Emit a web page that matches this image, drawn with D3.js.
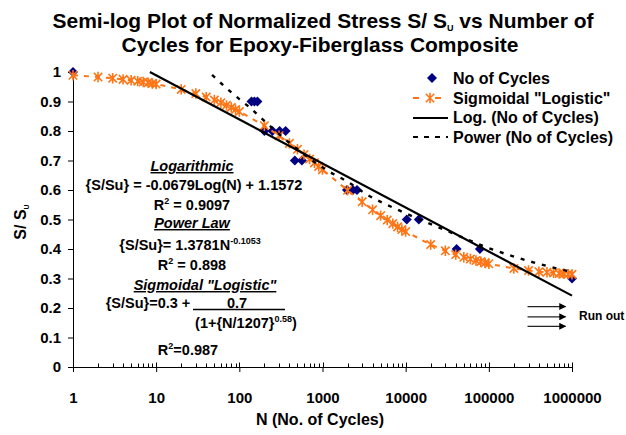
<!DOCTYPE html>
<html>
<head>
<meta charset="utf-8">
<script src="https://cdn.jsdelivr.net/npm/d3@7"></script>
<style>
body { margin: 0; background: #fff; }
text { font-family: Arial, "Liberation Sans", sans-serif; font-weight: bold; fill: #000; }
</style>
</head>
<body>
<script>
// measured points (No of Cycles)
var cycN = [1, 140, 152, 165, 200, 250, 305, 360, 465, 565, 1970, 2320, 2600, 10300, 14400, 41000, 78000, 1000000];
var cycS = [1.0, 0.9, 0.9, 0.9, 0.8, 0.8, 0.8, 0.8, 0.7, 0.7, 0.6, 0.6, 0.6, 0.5, 0.5, 0.4, 0.4, 0.3];

// sigmoidal "logistic" series
var sigN = [1, 2, 3, 4, 5, 6, 7, 8, 9,
  10, 20, 30, 40, 50, 60, 70, 80, 90,
  100, 200, 300, 400, 500, 600, 700, 800, 900,
  1000, 2000, 3000, 4000, 5000, 6000, 7000, 8000, 9000,
  10000, 20000, 30000, 40000, 50000, 60000, 70000, 80000, 90000,
  100000, 200000, 300000, 400000, 500000, 600000, 700000, 800000, 900000,
  1000000];
var sigS = [0.989, 0.983, 0.979, 0.975, 0.972, 0.969, 0.966, 0.964, 0.961,
  0.959, 0.941, 0.927, 0.915, 0.905, 0.896, 0.887, 0.880, 0.873,
  0.866, 0.818, 0.784, 0.758, 0.738, 0.720, 0.705, 0.692, 0.680,
  0.669, 0.599, 0.560, 0.533, 0.513, 0.498, 0.486, 0.475, 0.466,
  0.459, 0.415, 0.394, 0.381, 0.372, 0.366, 0.361, 0.357, 0.353,
  0.350, 0.334, 0.327, 0.323, 0.321, 0.319, 0.317, 0.316, 0.315,
  0.314];

// trend lines as seen on the chart
var logN = [8.4, 1000000];
var logS = [1.0, 0.242];
var powN = [47, 77, 101, 134, 169, 400, 1100, 1970, 3400, 8500, 30000, 112000, 434000, 1000000];
var powS = [0.99, 0.935, 0.907, 0.879, 0.853, 0.76, 0.669, 0.629, 0.585, 0.53, 0.464, 0.398, 0.347, 0.322];

// run out arrows
var runS = [0.205, 0.17, 0.138];
var runFrom = 292000, runTo = 836000;

var xTicks = [1, 10, 100, 1000, 10000, 100000, 1000000];
var yTicks = [0, 0.1, 0.2, 0.3, 0.4, 0.5, 0.6, 0.7, 0.8, 0.9, 1];

var orange = "#ff7414", navy = "#000080";

var W = 626, H = 435;
var svg = d3.select("body").append("svg").attr("width", W).attr("height", H);
svg.append("rect").attr("width", W).attr("height", H).attr("fill", "#fff");

var x = d3.scaleLog().domain([1, 1e6]).range([73, 572]);
var y = d3.scaleLinear().domain([0, 1]).range([367, 72]);

// title
var title = svg.append("text").attr("text-anchor", "middle").style("font-size", "21px");
var t1 = title.append("tspan").attr("x", 323).attr("y", 28);
t1.append("tspan").text("Semi-log Plot of Normalized Stress S/ S");
t1.append("tspan").text("U").style("font-size", "9px").attr("dy", 3);
t1.append("tspan").text(" vs Number of").attr("dy", -3);
title.append("tspan").attr("x", 320).attr("y", 52).text("Cycles for Epoxy-Fiberglass Composite");

// axes
var yAxis = svg.append("g").attr("transform", "translate(73,0)")
  .call(d3.axisLeft(y).tickValues(yTicks).tickSize(5).tickSizeOuter(0).tickPadding(7)
    .tickFormat(function(d) { return d == 0 ? "0" : d == 1 ? "1" : d.toFixed(1); }));
var xAxis = svg.append("g").attr("transform", "translate(0,367)")
  .call(d3.axisBottom(x).tickValues(xTicks).tickSize(5).tickSizeOuter(0).tickPadding(20)
    .tickFormat(d3.format("d")));
svg.selectAll(".tick text").style("font-size", "15px").style("font-family", "Arial, 'Liberation Sans', sans-serif");
svg.selectAll(".domain").attr("stroke", "#000");

// major ticks also go up, minor ticks only up
var minor = x.ticks().filter(function(d) { return xTicks.indexOf(d) < 0; });
svg.append("g").selectAll("line").data(xTicks.concat(minor)).enter().append("line")
  .attr("x1", function(d) { return Math.round(x(d)) + 0.5; })
  .attr("x2", function(d) { return Math.round(x(d)) + 0.5; })
  .attr("y1", 367.5)
  .attr("y2", function(d) { return xTicks.indexOf(d) >= 0 ? 362.5 : 363.5; })
  .attr("stroke", "#000");

svg.append("text").attr("x", 320).attr("y", 425).attr("text-anchor", "middle")
  .style("font-size", "16px").text("N (No. of Cycles)");
var yl = svg.append("text").attr("transform", "translate(26,222) rotate(-90)")
  .attr("text-anchor", "middle").style("font-size", "16px");
yl.append("tspan").text("S/ S");
yl.append("tspan").text("U").style("font-size", "7px").attr("dy", 3);

// No of Cycles diamonds
var diamond = "M0,-5L5,0L0,5L-5,0Z";
svg.append("g").selectAll("path").data(cycN).enter().append("path")
  .attr("d", diamond)
  .attr("transform", function(d, i) { return "translate(" + x(d) + "," + y(cycS[i]) + ")"; })
  .attr("fill", navy);

// sigmoidal series
var sig = sigN.map(function(d, i) { return [d, sigS[i]]; });
var line = d3.line().x(function(d) { return x(d[0]); }).y(function(d) { return y(d[1]); });
svg.append("path").datum(sig).attr("d", line).attr("fill", "none")
  .attr("stroke", orange).attr("stroke-width", 2).attr("stroke-dasharray", "5,6");

function star(r) {
  return "M" + (-r) + "," + (-r) + "L" + r + "," + r + "M" + (-r) + "," + r + "L" + r + "," + (-r) +
    "M0," + (-r - 1) + "L0," + (r + 1);
}
svg.append("g").selectAll("path").data(sig).enter().append("path")
  .attr("d", star(4.2))
  .attr("transform", function(d) { return "translate(" + x(d[0]) + "," + y(d[1]) + ")"; })
  .attr("stroke", orange).attr("stroke-width", 1.6).attr("fill", "none");

// trend lines
var logLine = logN.map(function(d, i) { return [d, logS[i]]; });
svg.append("path").datum(logLine).attr("d", line).attr("fill", "none")
  .attr("stroke", "#000").attr("stroke-width", 2.2);
var powLine = powN.map(function(d, i) { return [d, powS[i]]; });
svg.append("path").datum(powLine).attr("d", d3.line().curve(d3.curveMonotoneX)
    .x(function(d) { return x(d[0]); }).y(function(d) { return y(d[1]); }))
  .attr("fill", "none").attr("stroke", "#000").attr("stroke-width", 2.4).attr("stroke-dasharray", "4,7");

// run out
svg.append("defs").append("marker").attr("id", "arr").attr("viewBox", "0 0 10 10")
  .attr("refX", 9).attr("refY", 5).attr("markerWidth", 8).attr("markerHeight", 7)
  .attr("markerUnits", "userSpaceOnUse").attr("orient", "auto")
  .append("path").attr("d", "M0,0L10,5L0,10z").attr("fill", "#000");
svg.append("g").selectAll("line").data(runS).enter().append("line")
  .attr("x1", x(runFrom)).attr("x2", x(runTo))
  .attr("y1", function(d) { return y(d); }).attr("y2", function(d) { return y(d); })
  .attr("stroke", "#222").attr("stroke-width", 1.3).attr("marker-end", "url(#arr)");
svg.append("text").attr("x", 579).attr("y", 320).style("font-size", "12px").text("Run out");

// legend
var leg = svg.append("g").style("font-size", "16px");
leg.append("path").attr("d", diamond).attr("transform", "translate(432,78)").attr("fill", navy);
leg.append("line").attr("x1", 413).attr("x2", 448).attr("y1", 98).attr("y2", 98)
  .attr("stroke", orange).attr("stroke-width", 2).attr("stroke-dasharray", "6,16");
leg.append("path").attr("d", star(4.2)).attr("transform", "translate(430,98)")
  .attr("stroke", orange).attr("stroke-width", 1.6).attr("fill", "none");
leg.append("line").attr("x1", 413).attr("x2", 448).attr("y1", 118).attr("y2", 118)
  .attr("stroke", "#000").attr("stroke-width", 2.2);
leg.append("line").attr("x1", 413).attr("x2", 448).attr("y1", 137).attr("y2", 137)
  .attr("stroke", "#000").attr("stroke-width", 2.2).attr("stroke-dasharray", "5,6");
var legNames = ["No of Cycles", "Sigmoidal \"Logistic\"", "Log. (No of Cycles)", "Power (No of Cycles)"];
leg.selectAll("text").data(legNames).enter().append("text")
  .attr("x", 453).attr("y", function(d, i) { return 84 + i * 19.7; }).text(function(d) { return d; });

// equations
var eq = svg.append("g").style("font-size", "14.5px").attr("text-anchor", "middle");
function row(cx, cy, parts, extra) {
  var t = eq.append("text").attr("x", cx).attr("y", cy);
  parts.forEach(function(p) {
    var s = t.append("tspan").text(p[0]);
    if (p[1] == "sup") s.style("font-size", "9px").attr("dy", -6);
    if (p[1] == "down") s.attr("dy", 6);
  });
  if (extra) extra(t);
  return t;
}
function head(t) { t.style("font-style", "italic").style("text-decoration", "underline"); }
row(192, 171, [["Logarithmic"]], head);
row(194, 190, [["{S/Su} = -0.0679Log(N) + 1.1572"]]);
row(192, 210, [["R"], ["2", "sup"], [" = 0.9097", "down"]]);
row(192, 228, [["Power Law"]], head);
row(190, 250, [["{S/Su}= 1.3781N"], ["-0.1053", "sup"]]);
row(192, 270, [["R"], ["2", "sup"], [" = 0.898", "down"]]);
row(205, 290, [["Sigmoidal \"Logistic\""]], head);
row(148, 308, [["{S/Su}=0.3 +"]]);
row(237, 308, [["0.7"]]);
eq.append("line").attr("x1", 193).attr("x2", 285).attr("y1", 309.5).attr("y2", 309.5)
  .attr("stroke", "#000").attr("stroke-width", 1.5);
row(246, 328, [["(1+{N/1207}"], ["0.58", "sup"], [")", "down"]]);
row(188, 355, [["R"], ["2", "sup"], ["=0.987", "down"]]);
</script>
</body>
</html>
